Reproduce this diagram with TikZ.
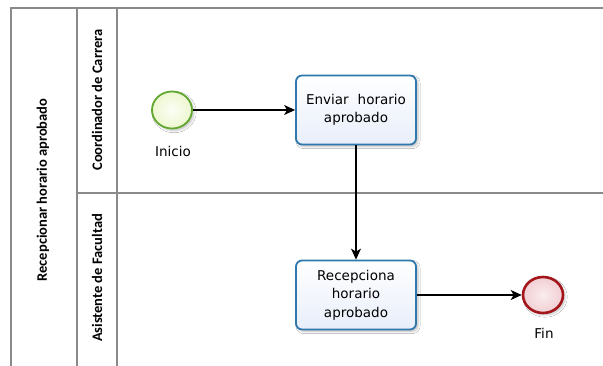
\documentclass[tikz,border=0pt]{standalone}
\usepackage{fontspec}
\setmainfont{DejaVu Sans}
\newfontfamily\lanefont{Carlito}
\usetikzlibrary{arrows.meta,shapes.geometric,shadows.blur}
\definecolor{poolgray}{HTML}{8A8A8A}
\definecolor{taskblue}{HTML}{2E78AE}
\definecolor{taskfill}{HTML}{E8EEFA}
\definecolor{startgreen}{HTML}{62A830}
\definecolor{startfill}{HTML}{EDF7CF}
\definecolor{endred}{HTML}{A3161B}
\definecolor{endfill}{HTML}{F2CFD4}
\tikzset{
  poolline/.style={draw=poolgray, line width=1.3pt},
  lanelabel/.style={font=\lanefont\bfseries\fontsize{14.5}{16}\selectfont, rotate=90, anchor=center},
  task/.style={draw=taskblue, line width=1.8pt, rounded corners=6pt, minimum width=120pt, minimum height=69pt,
     top color=white, bottom color=taskfill, align=center, text width=116pt, inner sep=1pt,
     font=\fontsize{13.5}{18.5}\selectfont, blur shadow={shadow blur steps=5, shadow xshift=2pt, shadow yshift=-2pt, shadow opacity=25}},
  startev/.style={ellipse, draw=startgreen, line width=1.8pt, minimum width=40pt, minimum height=37pt,
     inner color=white!80!startfill, outer color=startfill,
     blur shadow={shadow blur steps=5, shadow xshift=2pt, shadow yshift=-2pt, shadow opacity=25}},
  endev/.style={ellipse, draw=endred, line width=2.6pt, minimum width=40pt, minimum height=36pt,
     inner color=endfill!40!white, outer color=endfill,
     blur shadow={shadow blur steps=5, shadow xshift=2pt, shadow yshift=-2pt, shadow opacity=25}},
  flow/.style={draw=black, line width=1.1pt, -{Stealth[length=11pt,width=10pt,inset=3pt]}},
  evlabel/.style={font=\fontsize{13.5}{15}\selectfont}
}
\begin{document}
\begin{tikzpicture}[x=1pt,y=-1pt]
\useasboundingbox (0,0) rectangle (603,366);
\fill[white] (0,0) rectangle (603,366);
% pool and lanes
\draw[poolline] (11,366) -- (11,8) -- (603,8);
\draw[poolline] (77,8) -- (77,366);
\draw[poolline] (117,8) -- (117,366);
\draw[poolline] (77,193) -- (603,193);
\node[lanelabel] (pool) at (43,190) {Recepcionar horario aprobado};
\node[lanelabel] (lane1) at (97,100) {Coordinador de Carrera};
\node[lanelabel] (lane2) at (97,278) {Asistente de Facultad};
% elements
\node[startev] (start) at (172,110) {};
\node[evlabel] (startlbl) at (173,151) {Inicio};
\node[task] (t1) at (356,110) {Enviar\ \ horario\\aprobado};
\node[task] (t2) at (356,295) {Recepciona\\horario\\aprobado};
\node[endev] (end) at (543,295) {};
\node[evlabel] (endlbl) at (544,333) {Fin};
% flows
\draw[flow] (start.east) -- (t1.west);
\draw[flow] (t1.south) -- (t2.north);
\draw[flow] (t2.east) -- (end.west);
\end{tikzpicture}
\end{document}
